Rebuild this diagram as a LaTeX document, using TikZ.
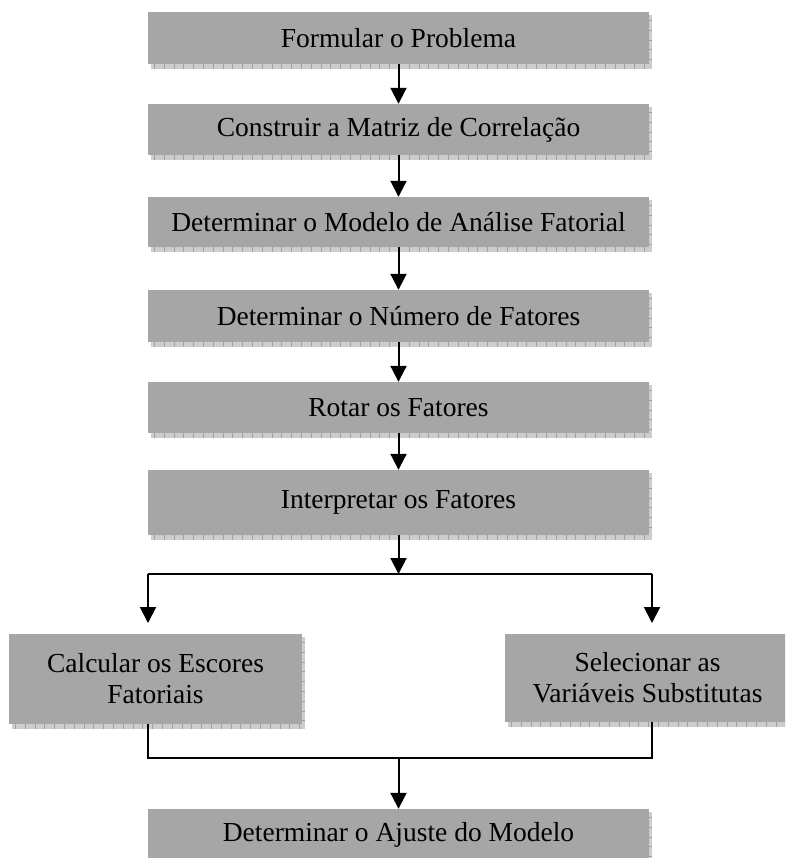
\documentclass[tikz,border=0pt]{standalone}
\usepackage{fontspec}
\setmainfont{Liberation Serif}
\usetikzlibrary{arrows.meta}
\definecolor{boxgray}{RGB}{166,166,166}
\definecolor{shadowgray}{RGB}{205,205,205}
\definecolor{tickgray}{RGB}{160,160,160}
\tikzset{
  flowbox/.style={fill=boxgray, inner sep=0pt, align=center,
    font=\fontsize{27.5}{31}\selectfont, text=black},
  conn/.style={line width=2pt, draw=black},
  arr/.style={conn, -{Triangle[width=16pt,length=16pt]}},
}
% #1 name, #2 x1, #3 y1, #4 x2, #5 y2, #6 text
\newcommand\FlowBox[6]{%
  \fill[shadowgray] ({#2+3},{#5}) rectangle ({#4+3},{#5+5});
  \fill[shadowgray] ({#4},{#3+3}) rectangle ({#4+3},{#5+5});
  \draw[tickgray, line width=5pt, dash pattern=on 0.8pt off 9pt] ({#2+6},{#5+2.5}) -- ({#4+3},{#5+2.5});
  \draw[tickgray, line width=3pt, dash pattern=on 0.8pt off 9pt] ({#4+1.5},{#3+8}) -- ({#4+1.5},{#5});
  \node[flowbox, minimum width={#4pt-#2pt}, minimum height={#5pt-#3pt}]
    (#1) at ({(#2+#4)/2},{(#3+#5)/2}) {#6};%
}
\begin{document}
\begin{tikzpicture}[x=1pt, y=-1pt]
  \useasboundingbox (0,0) rectangle (785,858);
  \clip (0,0) rectangle (785,858);
  \FlowBox{b1}{148}{12}{649}{64}{Formular o Problema}
  \FlowBox{b2}{148}{104}{649}{155}{Construir a Matriz de Correlação}
  \FlowBox{b3}{148}{197}{649}{247}{Determinar o Modelo de Análise Fatorial}
  \FlowBox{b4}{148}{290}{649}{342}{Determinar o Número de Fatores}
  \FlowBox{b5}{148}{382}{649}{433}{Rotar os Fatores}
  \FlowBox{b6}{148}{470}{649}{535}{Interpretar os Fatores}
  \FlowBox{bL}{9}{634}{302}{724}{Calcular os Escores\\Fatoriais}
  \FlowBox{bR}{505}{634}{790}{722}{Selecionar as\\Variáveis Substitutas}
  \FlowBox{b9}{148}{809}{649}{861}{Determinar o Ajuste do Modelo}

  \draw[arr] (b1.south) -- (b2.north);
  \draw[arr] (b2.south) -- (b3.north);
  \draw[arr] (b3.south) -- (b4.north);
  \draw[arr] (b4.south) -- (b5.north);
  \draw[arr] (b5.south) -- (b6.north);

  \coordinate (sM) at (398.5,574);
  \coordinate (sL) at (148,574);
  \coordinate (sR) at (652,574);
  \coordinate (tL) at (148,623);
  \coordinate (tR) at (652,623);
  \draw[arr] (b6.south) -- (sM);
  \draw[conn] (sL) -- (sR);
  \draw[arr] (sL) -- (tL);
  \draw[arr] (sR) -- (tR);

  \coordinate (jL) at (148,758);
  \coordinate (jR) at (652,758);
  \coordinate (jM) at (398.5,758);
  \draw[conn] (bL.south -| jL) -- (jL) -- (jR) -- (bR.south -| jR);
  \draw[arr] (jM) -- (b9.north);
\end{tikzpicture}
\end{document}
